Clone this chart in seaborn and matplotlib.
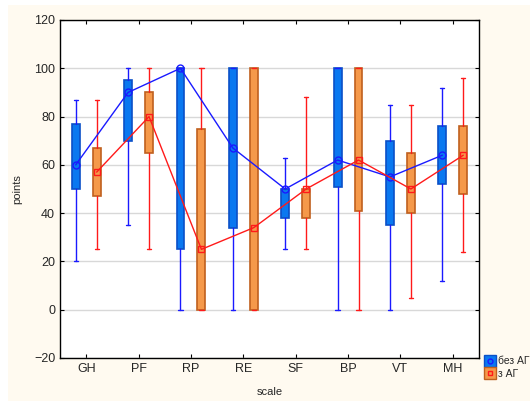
import numpy as np
import pandas as pd
import seaborn as sns
import matplotlib.pyplot as plt
from matplotlib.patches import Rectangle
from matplotlib.lines import Line2D
from matplotlib.legend_handler import HandlerTuple

scales = ['GH', 'PF', 'RP', 'RE', 'SF', 'BP', 'VT', 'MH']
groups = ['без АГ', 'з АГ']

# без АГ
a_med = [60, 90, 100, 67, 50, 62, 55, 64]
a_q1 = [50, 70, 25, 34, 38, 51, 35, 52]
a_q3 = [77, 95, 100, 100, 50, 100, 70, 76]
a_min = [20, 35, 0, 0, 25, 0, 0, 12]
a_max = [87, 100, 100, 100, 63, 100, 85, 92]

# з АГ
b_med = [57, 80, 25, 34, 50, 62, 50, 64]
b_q1 = [47, 65, 0, 0, 38, 41, 40, 48]
b_q3 = [67, 90, 75, 100, 50, 100, 65, 76]
b_min = [25, 25, 0, 0, 25, 0, 5, 24]
b_max = [87, 100, 100, 100, 88, 100, 85, 96]

sns.set_style('white')
plt.rcParams['font.family'] = ['Liberation Sans', 'DejaVu Sans']

fig = plt.figure(figsize=(5.30, 4.01), dpi=100, facecolor='white')
fig.patches.append(Rectangle((8 / 530, 0), 1, 1 - 5 / 401, transform=fig.transFigure,
                             facecolor='#fffaf0', edgecolor='none', zorder=-10))
ax = fig.add_axes([60 / 530, 1 - 358 / 401, 419 / 530, 338 / 401])
ax.set_facecolor('white')

styles = {
    'без АГ': dict(face='#0a78f0', edge='#0a50c8', line='#1a1aff', marker='o', off=-0.2),
    'з АГ': dict(face='#f5994a', edge='#c0601e', line='#ff1a1a', marker='s', off=0.2),
}
data = {
    'без АГ': (a_med, a_q1, a_q3, a_min, a_max),
    'з АГ': (b_med, b_q1, b_q3, b_min, b_max),
}

x = np.arange(len(scales))
for g in groups:
    med, q1, q3, lo, hi = data[g]
    st = styles[g]
    stats = [dict(med=m, q1=a, q3=b, whislo=l, whishi=h, fliers=[])
             for m, a, b, l, h in zip(med, q1, q3, lo, hi)]
    ax.bxp(stats, positions=x + st['off'], widths=0.15, patch_artist=True,
           showfliers=False, capwidths=0.08,
           boxprops=dict(facecolor=st['face'], edgecolor=st['edge'], linewidth=1.2),
           medianprops=dict(linewidth=0),
           whiskerprops=dict(color=st['line'], linewidth=1),
           capprops=dict(color=st['line'], linewidth=1), zorder=2)
    df = pd.DataFrame({'x': x + st['off'], 'points': med})
    sns.lineplot(data=df, x='x', y='points', ax=ax, color=st['line'], linewidth=1,
                 marker=st['marker'], markersize=5, markerfacecolor='none',
                 markeredgecolor=st['line'], markeredgewidth=1, zorder=3)

ax.set_xlim(-0.5, len(scales) - 0.5)
ax.set_ylim(-20, 120)
ax.set_yticks(range(-20, 121, 20))
ax.set_xticks(x)
ax.set_xticklabels(scales)
ax.yaxis.grid(True, color='#d8d8d8', linewidth=1)
ax.set_axisbelow(True)
ax.tick_params(axis='both', labelsize=9, direction='in', length=3, color='black',
               top=True, right=True, bottom=True, left=True)
for s in ax.spines.values():
    s.set_color('black')
    s.set_linewidth(1)
ax.set_xlabel('scale', fontsize=8)
ax.set_ylabel('points', fontsize=8)
ax.xaxis.set_label_coords(0.5, -0.085)
ax.yaxis.set_label_coords(-0.09, 0.5)

handles = []
for g in groups:
    st = styles[g]
    box = Line2D([], [], marker='s', linestyle='none', markersize=9,
                 markerfacecolor=st['face'], markeredgecolor=st['edge'])
    inner = Line2D([], [], marker=st['marker'], linestyle='none', markersize=3.5,
                   markerfacecolor='none', markeredgecolor=st['line'])
    handles.append((box, inner))
fig.legend(handles, groups, loc='upper left', bbox_to_anchor=(482 / 530, 1 - 352 / 401),
           frameon=False, fontsize=7.5, handlelength=0.8, handletextpad=0.3,
           labelspacing=0.25, borderaxespad=0,
           handler_map={tuple: HandlerTuple(ndivide=1, pad=0)})

fig.savefig('out.png', dpi=100, facecolor=fig.get_facecolor())
